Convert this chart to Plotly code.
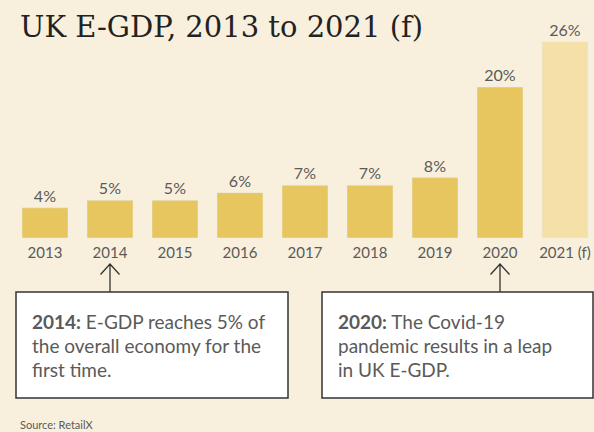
import plotly.graph_objects as go

years = ["2013", "2014", "2015", "2016", "2017", "2018", "2019", "2020", "2021 (f)"]
egdp = [4, 5, 5, 6, 7, 7, 8, 20, 26]
labels = ["4%", "5%", "5%", "6%", "7%", "7%", "8%", "20%", "26%"]
bar_colors = ["#E8C65F"] * 8 + ["#F5E0A8"]

note_2014 = ["<b>2014:</b> E-GDP reaches 5% of", "the overall economy for the", "first time."]
note_2020 = ["<b>2020:</b> The Covid-19", "pandemic results in a leap", "in UK E-GDP."]

W, H = 594, 432
PLOT_BOTTOM = 238  # px from top

def px(x):
    return x / W

def py(y):
    return (PLOT_BOTTOM - y) / PLOT_BOTTOM

BG = "#F8F0DC"
GRAY = "#5a5a5a"
FONT = "Lato"

fig = go.Figure(go.Bar(
    x=years, y=egdp, marker_color=bar_colors, width=0.708,
    text=labels, textposition="outside", cliponaxis=False,
    textfont=dict(family=FONT, size=16, color=GRAY),
    hoverinfo="skip",
))

fig.update_layout(
    width=W, height=H,
    paper_bgcolor=BG, plot_bgcolor=BG,
    margin=dict(l=0, r=0, t=0, b=H - PLOT_BOTTOM),
    showlegend=False,
    title=dict(text="UK E-GDP, 2013 to 2021 (f)", x=20 / W, xanchor="left",
               y=1 - 27 / H, yanchor="middle",
               font=dict(family="DejaVu Serif", size=29, color="#222222")),
    xaxis=dict(type="category", range=[-45 / 65, (W - 45) / 65],
               showgrid=False, zeroline=False, showline=False,
               ticks="outside", ticklen=1, tickcolor="rgba(0,0,0,0)",
               tickfont=dict(family=FONT, size=15, color=GRAY)),
    yaxis=dict(range=[0, PLOT_BOTTOM / 7.55], visible=False),
)

shapes = []
annotations = []
boxes = [(16, 288, note_2014, 30, 1), (322, 593, note_2020, 336, 7)]
for x0, x1, lines, tx, idx in boxes:
    shapes.append(dict(type="rect", xref="paper", yref="paper",
                       x0=px(x0), x1=px(x1), y0=py(398), y1=py(292),
                       fillcolor="white", line=dict(color="#333333", width=1.5), layer="above"))
    for i, ln in enumerate(lines):
        annotations.append(dict(xref="paper", yref="paper", x=px(tx), y=py(321 + 24 * i),
                                xanchor="left", yanchor="middle", showarrow=False,
                                text=ln, font=dict(family=FONT, size=19, color=GRAY)))
    # arrow: shaft + open chevron, anchored at the category
    shapes.append(dict(type="path", xref="x", yref="paper",
                       xsizemode="pixel", xanchor=idx,
                       ysizemode="pixel", yanchor=py(264),
                       path="M0,0 L0,-28 M-9.5,-10.5 L0,0 L9.5,-10.5",
                       line=dict(color="#333333", width=1.3), layer="above"))

annotations.append(dict(xref="paper", yref="paper", x=px(18), y=py(425),
                        xanchor="left", yanchor="middle", showarrow=False,
                        text="Source: RetailX", font=dict(family=FONT, size=11, color=GRAY)))

fig.update_layout(shapes=shapes, annotations=annotations)
fig.write_html("out.html", config={"displayModeBar": False},
               post_script="document.body.style.margin='0';document.body.style.overflow='hidden';")
